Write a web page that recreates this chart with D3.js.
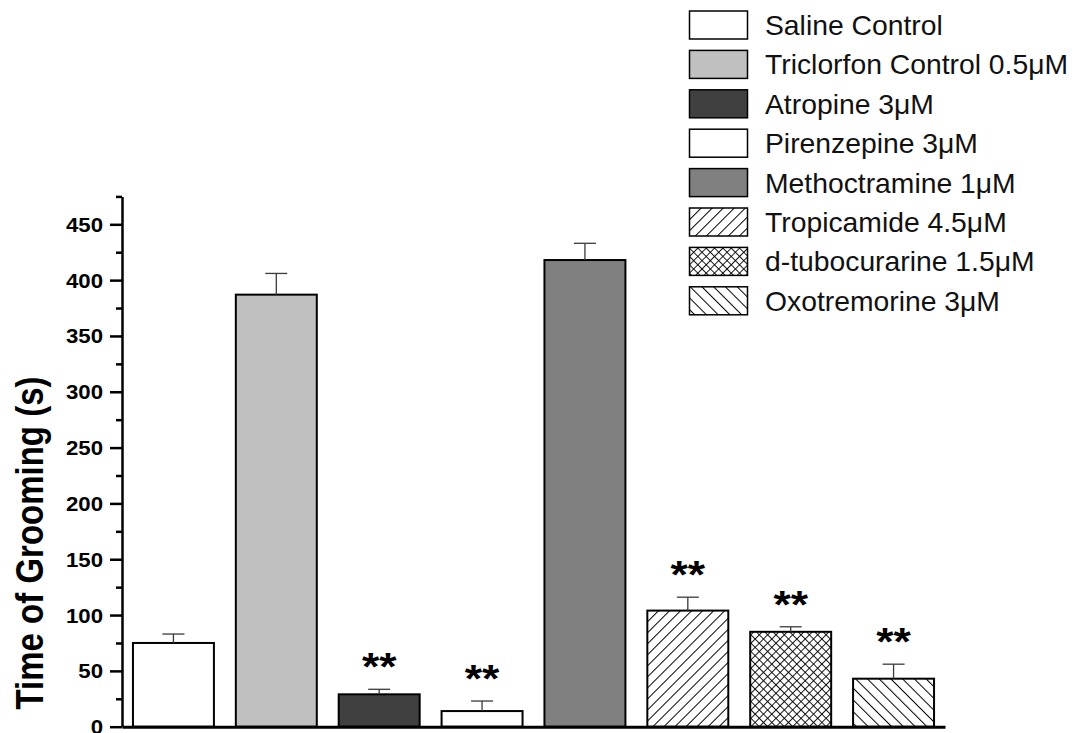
<!DOCTYPE html>
<html>
<head>
<meta charset="utf-8">
<script src="https://cdn.jsdelivr.net/npm/d3@7"></script>
<style>
  html, body { margin: 0; padding: 0; background: #fff; }
  svg { display: block; }
  text { font-family: Arial, "Liberation Sans", sans-serif; }
</style>
</head>
<body>
<svg id="chart" width="1078" height="733"></svg>
<script>
// Grooming time per treatment group (mean ± SEM, seconds)
const categories = [
  "Saline Control",
  "Triclorfon Control 0.5\u03bcM",
  "Atropine 3\u03bcM",
  "Pirenzepine 3\u03bcM",
  "Methoctramine 1\u03bcM",
  "Tropicamide 4.5\u03bcM",
  "d-tubocurarine 1.5\u03bcM",
  "Oxotremorine 3\u03bcM"
];
const means = [75, 387, 29, 14, 418, 104, 85, 43];
const sems = [8, 19, 4.5, 9, 15, 12, 4.5, 13];
const significance = ["", "", "**", "**", "", "**", "**", "**"];
const yTicks = [0, 50, 100, 150, 200, 250, 300, 350, 400, 450];
const yMinorTicks = [25, 75, 125, 175, 225, 275, 325, 375, 425, 475];
const yTitle = "Time of Grooming (s)";

// Fill of each group: solid grey levels or a hatch pattern
const barFills = ["#ffffff", "#c0c0c0", "#404040", "#ffffff", "#808080",
                  "url(#hatchFwd)", "url(#hatchCross)", "url(#hatchBack)"];

const svg = d3.select("#chart");
svg.append("rect").attr("width", 1078).attr("height", 733).attr("fill", "#fff");

// Hatch patterns
const defs = svg.append("defs");
function linePattern(id, spacing, angle, width) {
  const p = defs.append("pattern")
    .attr("id", id)
    .attr("patternUnits", "userSpaceOnUse")
    .attr("width", spacing).attr("height", spacing)
    .attr("patternTransform", `rotate(${angle})`);
  p.append("rect").attr("width", spacing).attr("height", spacing).attr("fill", "#fff");
  p.append("line").attr("x1", 0).attr("y1", 0).attr("x2", 0).attr("y2", spacing)
    .attr("stroke", "#000").attr("stroke-width", width);
  return p;
}
linePattern("hatchFwd", 7.8, 45, 2);
linePattern("hatchBack", 8.3, -45, 2);
{
  const s = 5.9;
  const p = defs.append("pattern")
    .attr("id", "hatchCross")
    .attr("patternUnits", "userSpaceOnUse")
    .attr("width", s).attr("height", s)
    .attr("patternTransform", "rotate(45)");
  p.append("rect").attr("width", s).attr("height", s).attr("fill", "#fff");
  p.append("line").attr("x1", 0).attr("y1", 0).attr("x2", 0).attr("y2", s)
    .attr("stroke", "#000").attr("stroke-width", 1.8);
  p.append("line").attr("x1", 0).attr("y1", 0).attr("x2", s).attr("y2", 0)
    .attr("stroke", "#000").attr("stroke-width", 1.8);
}

// Scales
const x = d3.scaleBand()
  .domain(categories)
  .range([122, 945])
  .paddingInner(0.213)
  .paddingOuter(0.1065);

const y = d3.scaleLinear()
  .domain([0, 475])
  .range([726.7, 196.4]);

const stretch = 1.17;

// Bars
const bars = svg.append("g");
bars.selectAll("rect")
  .data(categories)
  .join("rect")
  .attr("x", d => x(d))
  .attr("y", (d, i) => y(means[i]))
  .attr("width", x.bandwidth())
  .attr("height", (d, i) => y(0) - y(means[i]))
  .attr("fill", (d, i) => barFills[i])
  .attr("stroke", "#000")
  .attr("stroke-width", 2);

// Error bars (upper half only)
const err = svg.append("g").attr("stroke", "#3a3a3a").attr("stroke-width", 1.3);
categories.forEach((c, i) => {
  const cx = x(c) + x.bandwidth() / 2;
  err.append("line")
    .attr("x1", cx).attr("x2", cx)
    .attr("y1", y(means[i])).attr("y2", y(means[i] + sems[i]));
  err.append("line")
    .attr("x1", cx - 11).attr("x2", cx + 11)
    .attr("y1", y(means[i] + sems[i])).attr("y2", y(means[i] + sems[i]));
});

// Significance stars
svg.append("g").selectAll("text")
  .data(categories)
  .join("text")
  .attr("transform", (d, i) =>
    `translate(${x(d) + x.bandwidth() / 2},${y(means[i] + sems[i]) - 9}) scale(${stretch},1)`)
  .attr("text-anchor", "middle")
  .attr("font-weight", "bold")
  .attr("font-size", 38)
  .attr("fill", "#000")
  .text((d, i) => significance[i]);

// X axis: baseline only
const xAxis = svg.append("g")
  .attr("transform", `translate(0,${y(0)})`)
  .call(d3.axisBottom(x).tickSize(0).tickFormat(""));
xAxis.select(".domain").attr("stroke", "#000").attr("stroke-width", 3);

// Y axis: minor ticks
const yMinor = svg.append("g")
  .attr("transform", "translate(122,0)")
  .call(d3.axisLeft(y).tickValues(yMinorTicks).tickSize(6).tickSizeOuter(0).tickFormat(""));
yMinor.select(".domain").remove();
yMinor.selectAll("line").attr("stroke", "#000").attr("stroke-width", 2.5);

// Y axis: major ticks and labels
const yAxis = svg.append("g")
  .attr("transform", "translate(122,0)")
  .call(d3.axisLeft(y).tickValues(yTicks).tickSize(12).tickSizeOuter(0).tickPadding(7));
yAxis.select(".domain").attr("stroke", "#000").attr("stroke-width", 2.5);
yAxis.selectAll(".tick line").attr("stroke", "#000").attr("stroke-width", 2.5);
yAxis.selectAll(".tick text")
  .attr("transform", function () { return `translate(${d3.select(this).attr("x")},0) scale(1.14,1)`; })
  .attr("x", 0)
  .attr("dy", "0.36em")
  .attr("fill", "#000")
  .attr("font-size", 19.5)
  .attr("font-weight", "bold")
  .attr("font-family", "Arial, 'Liberation Sans', sans-serif");

// Y axis title
svg.append("text")
  .attr("transform", `translate(43,543) scale(${stretch},1) rotate(-90)`)
  .attr("text-anchor", "middle")
  .attr("font-size", 33)
  .attr("font-weight", "bold")
  .attr("fill", "#000")
  .text(yTitle);

// Legend
const legend = svg.append("g");
const rows = legend.selectAll("g")
  .data(categories)
  .join("g")
  .attr("transform", (d, i) => `translate(689.5,${11 + i * 39.4})`);
rows.append("rect")
  .attr("width", 58).attr("height", 28)
  .attr("fill", (d, i) => barFills[i])
  .attr("stroke", "#000").attr("stroke-width", 1.5);
rows.append("text")
  .attr("x", 75.5).attr("y", 24)
  .attr("font-size", 28.3)
  .attr("fill", "#111")
  .text(d => d);
</script>
</body>
</html>
